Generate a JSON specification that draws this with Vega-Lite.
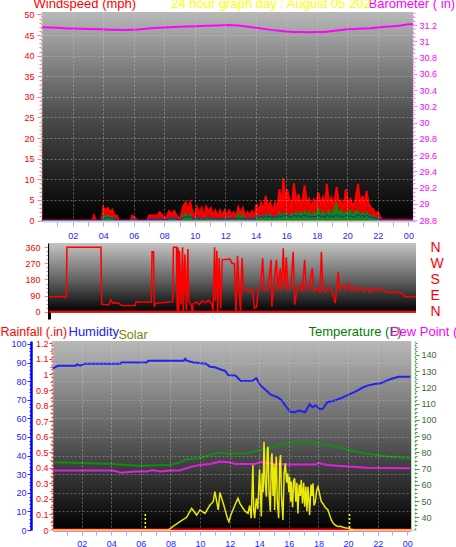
{
"$schema": "https://vega.github.io/schema/vega-lite/v6.json",
"background": "#ffffff",
"autosize": {"type": "pad"},
"padding": {"left": 0, "top": -3, "right": 0, "bottom": 0},
"spacing": 22,
"bounds": "flush",
"config": {
  "view": {"stroke": null},
  "font": "Liberation Sans",
  "axis": {"labelFont": "Liberation Sans", "titleFont": "Liberation Sans", "titleFontWeight": "normal", "labelOverlap": false, "labelFlush": false, "titleFontSize": 13, "labelFontSize": 9, "titleAngle": 0, "titleAlign": "left", "titleBaseline": "alphabetic", "titlePadding": 0}
},
"datasets": {
  "one": [{}],
  "wind": [
    {"h":0,"gust":0,"mean":0,"low":0},{"h":3.3,"gust":0,"mean":0,"low":0},{"h":3.4,"gust":1.2,"mean":0,"low":0.3},{"h":3.5,"gust":0,"mean":0,"low":0},{"h":3.9,"gust":0,"mean":0,"low":0},
    {"h":4.0,"gust":3.2,"mean":1.6,"low":0.8},{"h":4.15,"gust":2.3,"mean":1.0,"low":0.5},{"h":4.3,"gust":3.0,"mean":1.6,"low":0.9},{"h":4.45,"gust":2.0,"mean":0.8,"low":0.4},{"h":4.6,"gust":2.6,"mean":1.2,"low":0.6},{"h":4.75,"gust":1.0,"mean":0.3,"low":0.3},{"h":4.9,"gust":1.2,"mean":0,"low":0.2},{"h":5.0,"gust":0,"mean":0,"low":0},
    {"h":5.8,"gust":0,"mean":0,"low":0},{"h":5.9,"gust":1.2,"mean":0.6,"low":0.5},{"h":6.05,"gust":0.8,"mean":0.2,"low":0.3},{"h":6.2,"gust":0,"mean":0,"low":0},{"h":6.9,"gust":0,"mean":0,"low":0},
    {"h":7.0,"gust":1.2,"mean":0.3,"low":0.3},{"h":7.3,"gust":1.2,"mean":0.2,"low":0.3},{"h":7.5,"gust":1.0,"mean":0.2,"low":0.2},{"h":7.7,"gust":2.0,"mean":0.6,"low":0.4},{"h":7.9,"gust":1.2,"mean":0.2,"low":0.3},{"h":8.1,"gust":0.3,"mean":0,"low":0.1},
    {"h":8.3,"gust":2.3,"mean":0.8,"low":0.5},{"h":8.5,"gust":1.5,"mean":0.4,"low":0.4},{"h":8.65,"gust":2.3,"mean":1.0,"low":0.5},{"h":8.85,"gust":1.0,"mean":0.3,"low":0.3},{"h":9.05,"gust":0.4,"mean":0,"low":0.1},
    {"h":9.25,"gust":3.5,"mean":1.5,"low":0.8},{"h":9.4,"gust":4.4,"mean":2.0,"low":1.0},{"h":9.55,"gust":2.5,"mean":0.8,"low":0.6},{"h":9.7,"gust":4.4,"mean":2.0,"low":1.0},{"h":9.85,"gust":2.0,"mean":0.6,"low":0.5},{"h":10.0,"gust":0.8,"mean":0.2,"low":0.3},
    {"h":10.15,"gust":3.2,"mean":1.2,"low":0.8},{"h":10.3,"gust":1.5,"mean":0.4,"low":0.4},{"h":10.45,"gust":3.0,"mean":1.0,"low":0.7},{"h":10.6,"gust":0.6,"mean":0.1,"low":0.2},{"h":10.75,"gust":3.3,"mean":1.2,"low":0.8},{"h":10.9,"gust":2.0,"mean":0.5,"low":0.5},
    {"h":11.05,"gust":3.0,"mean":1.0,"low":0.7},{"h":11.2,"gust":1.2,"mean":0.3,"low":0.3},{"h":11.35,"gust":2.4,"mean":0.8,"low":0.6},{"h":11.5,"gust":0.8,"mean":0.2,"low":0.3},{"h":11.65,"gust":2.4,"mean":1.0,"low":0.6},{"h":11.8,"gust":1.0,"mean":0.3,"low":0.3},
    {"h":11.95,"gust":2.4,"mean":0.8,"low":0.6},{"h":12.1,"gust":1.0,"mean":0.3,"low":0.3},{"h":12.25,"gust":2.4,"mean":1.2,"low":0.6},{"h":12.4,"gust":1.2,"mean":0.4,"low":0.4},{"h":12.55,"gust":2.0,"mean":0.8,"low":0.5},{"h":12.7,"gust":0.8,"mean":0.3,"low":0.3},
    {"h":12.85,"gust":3.2,"mean":2.4,"low":0.8},{"h":13.0,"gust":1.5,"mean":0.6,"low":0.4},{"h":13.15,"gust":3.0,"mean":2.0,"low":0.7},{"h":13.3,"gust":1.0,"mean":0.3,"low":0.3},{"h":13.45,"gust":2.0,"mean":0.8,"low":0.5},{"h":13.6,"gust":1.2,"mean":0.4,"low":0.4},
    {"h":13.75,"gust":2.2,"mean":1.0,"low":0.6},{"h":13.9,"gust":0.6,"mean":0.1,"low":0.2},{"h":14.05,"gust":4.0,"mean":2.0,"low":1.0},{"h":14.2,"gust":2.0,"mean":0.6,"low":0.6},{"h":14.35,"gust":4.2,"mean":1.6,"low":1.0},{"h":14.5,"gust":2.5,"mean":0.8,"low":0.7},
    {"h":14.65,"gust":6.0,"mean":2.0,"low":1.2},{"h":14.8,"gust":3.0,"mean":1.0,"low":0.8},{"h":14.95,"gust":4.4,"mean":2.0,"low":1.0},{"h":15.1,"gust":2.0,"mean":0.6,"low":0.6},{"h":15.25,"gust":4.2,"mean":1.5,"low":1.0},{"h":15.4,"gust":2.5,"mean":1.0,"low":0.7},
    {"h":15.55,"gust":7.6,"mean":2.4,"low":1.2},{"h":15.7,"gust":3.0,"mean":1.2,"low":0.8},{"h":15.8,"gust":10.3,"mean":2.0,"low":1.4},{"h":15.95,"gust":4.0,"mean":1.5,"low":1.0},{"h":16.05,"gust":7.6,"mean":2.0,"low":1.2},{"h":16.2,"gust":5.2,"mean":1.2,"low":1.0},
    {"h":16.35,"gust":3.0,"mean":2.0,"low":0.8},{"h":16.5,"gust":9.0,"mean":1.5,"low":1.3},{"h":16.65,"gust":4.0,"mean":2.4,"low":1.0},{"h":16.8,"gust":6.4,"mean":1.5,"low":1.2},{"h":16.95,"gust":3.5,"mean":2.4,"low":0.9},{"h":17.1,"gust":6.0,"mean":1.5,"low":1.2},
    {"h":17.2,"gust":8.5,"mean":2.8,"low":1.3},{"h":17.35,"gust":4.0,"mean":1.5,"low":1.0},{"h":17.5,"gust":5.2,"mean":2.8,"low":1.1},{"h":17.65,"gust":3.0,"mean":1.2,"low":0.8},{"h":17.8,"gust":5.0,"mean":2.4,"low":1.0},{"h":17.95,"gust":3.5,"mean":1.5,"low":0.9},
    {"h":18.1,"gust":6.8,"mean":3.6,"low":1.3},{"h":18.25,"gust":4.0,"mean":1.5,"low":1.0},{"h":18.4,"gust":5.6,"mean":2.8,"low":1.1},{"h":18.55,"gust":3.0,"mean":1.2,"low":0.8},{"h":18.65,"gust":8.9,"mean":2.0,"low":1.4},{"h":18.8,"gust":4.0,"mean":2.8,"low":1.0},
    {"h":18.95,"gust":5.5,"mean":1.6,"low":1.1},{"h":19.1,"gust":3.5,"mean":2.8,"low":0.9},{"h":19.3,"gust":8.1,"mean":4.8,"low":1.4},{"h":19.45,"gust":4.0,"mean":2.0,"low":1.0},{"h":19.6,"gust":4.8,"mean":3.0,"low":1.1},{"h":19.75,"gust":3.0,"mean":1.5,"low":0.8},
    {"h":19.9,"gust":7.6,"mean":2.5,"low":1.3},{"h":20.05,"gust":4.0,"mean":2.0,"low":1.0},{"h":20.2,"gust":5.2,"mean":2.8,"low":1.1},{"h":20.35,"gust":3.5,"mean":1.5,"low":0.9},{"h":20.5,"gust":4.5,"mean":2.4,"low":1.0},{"h":20.7,"gust":8.9,"mean":2.4,"low":1.4},
    {"h":20.85,"gust":4.0,"mean":1.5,"low":1.0},{"h":21.0,"gust":6.0,"mean":2.4,"low":1.2},{"h":21.15,"gust":3.5,"mean":1.2,"low":0.9},{"h":21.25,"gust":7.2,"mean":2.4,"low":1.3},{"h":21.4,"gust":4.0,"mean":1.6,"low":1.0},{"h":21.55,"gust":3.0,"mean":1.0,"low":0.8},
    {"h":21.7,"gust":2.8,"mean":1.6,"low":0.7},{"h":21.85,"gust":1.5,"mean":0.6,"low":0.5},{"h":22.0,"gust":2.0,"mean":1.0,"low":0.6},{"h":22.15,"gust":0.8,"mean":0.3,"low":0.3},{"h":22.3,"gust":0.2,"mean":0,"low":0.1},{"h":24.3,"gust":0.2,"mean":0,"low":0.1}
  ],
  "baro": [
    {"h":0,"baro":31.172},{"h":0.5,"baro":31.17},{"h":1,"baro":31.165},{"h":1.5,"baro":31.16},{"h":2,"baro":31.158},{"h":3,"baro":31.152},{"h":3.8,"baro":31.147},{"h":4.5,"baro":31.142},{"h":5.5,"baro":31.138},{"h":6.3,"baro":31.145},{"h":7.1,"baro":31.16},{"h":8,"baro":31.17},{"h":9,"baro":31.18},{"h":10,"baro":31.185},{"h":10.8,"baro":31.19},{"h":11.5,"baro":31.195},{"h":12.2,"baro":31.2},{"h":13,"baro":31.19},{"h":14,"baro":31.167},{"h":15,"baro":31.14},{"h":15.5,"baro":31.13},{"h":16,"baro":31.12},{"h":16.5,"baro":31.115},{"h":17,"baro":31.113},{"h":17.5,"baro":31.112},{"h":18,"baro":31.113},{"h":18.5,"baro":31.115},{"h":19,"baro":31.125},{"h":19.5,"baro":31.135},{"h":20,"baro":31.147},{"h":20.5,"baro":31.152},{"h":21,"baro":31.157},{"h":21.5,"baro":31.16},{"h":22,"baro":31.17},{"h":22.5,"baro":31.178},{"h":23,"baro":31.185},{"h":23.5,"baro":31.195},{"h":24,"baro":31.21},{"h":24.3,"baro":31.21}
  ],
  "dir": [
    {"h":0.45,"dir":84},{"h":1.0,"dir":84},{"h":1.3,"dir":85},{"h":1.58,"dir":80},{"h":1.62,"dir":360},{"h":3.85,"dir":360},{"h":3.9,"dir":43},{"h":4.1,"dir":40},{"h":4.35,"dir":38},{"h":4.5,"dir":67},{"h":4.62,"dir":48},{"h":4.8,"dir":50},{"h":5.0,"dir":48},{"h":5.2,"dir":35},{"h":6.1,"dir":35},{"h":6.15,"dir":54},{"h":7.15,"dir":54},{"h":7.2,"dir":335},{"h":7.3,"dir":335},{"h":7.35,"dir":28},{"h":7.45,"dir":48},{"h":8.0,"dir":52},{"h":8.55,"dir":56},{"h":8.6,"dir":360},{"h":8.8,"dir":360},{"h":8.85,"dir":10},{"h":8.9,"dir":360},{"h":8.95,"dir":0},{"h":9.0,"dir":340},{"h":9.1,"dir":40},{"h":9.2,"dir":360},{"h":9.25,"dir":0},{"h":9.35,"dir":320},{"h":9.45,"dir":10},{"h":9.55,"dir":350},{"h":9.6,"dir":60},{"h":9.75,"dir":40},{"h":9.85,"dir":0},{"h":9.9,"dir":45},{"h":10.1,"dir":55},{"h":10.3,"dir":40},{"h":10.5,"dir":62},{"h":10.7,"dir":50},{"h":10.9,"dir":65},{"h":11.1,"dir":45},{"h":11.2,"dir":10},{"h":11.3,"dir":360},{"h":11.35,"dir":60},{"h":11.45,"dir":340},{"h":11.5,"dir":0},{"h":11.6,"dir":300},{"h":11.7,"dir":20},{"h":11.8,"dir":290},{"h":12.0,"dir":292},{"h":12.3,"dir":294},{"h":12.45,"dir":270},{"h":12.6,"dir":270},{"h":12.7,"dir":0},{"h":12.8,"dir":313},{"h":12.9,"dir":120},{"h":13.0,"dir":5},{"h":13.1,"dir":300},{"h":13.2,"dir":120},{"h":13.4,"dir":130},{"h":13.6,"dir":110},{"h":13.8,"dir":125},{"h":13.9,"dir":21},{"h":14.05,"dir":25},{"h":14.15,"dir":120},{"h":14.3,"dir":130},{"h":14.45,"dir":299},{"h":14.55,"dir":115},{"h":14.8,"dir":130},{"h":15.0,"dir":290},{"h":15.05,"dir":28},{"h":15.15,"dir":120},{"h":15.35,"dir":290},{"h":15.45,"dir":115},{"h":15.6,"dir":242},{"h":15.7,"dir":120},{"h":15.8,"dir":354},{"h":15.9,"dir":130},{"h":16.0,"dir":304},{"h":16.1,"dir":120},{"h":16.3,"dir":140},{"h":16.45,"dir":335},{"h":16.55,"dir":39},{"h":16.7,"dir":125},{"h":16.9,"dir":150},{"h":17.05,"dir":110},{"h":17.2,"dir":290},{"h":17.3,"dir":120},{"h":17.5,"dir":135},{"h":17.7,"dir":242},{"h":17.8,"dir":115},{"h":18.0,"dir":130},{"h":18.2,"dir":110},{"h":18.3,"dir":335},{"h":18.4,"dir":120},{"h":18.6,"dir":110},{"h":18.8,"dir":140},{"h":19.0,"dir":120},{"h":19.2,"dir":48},{"h":19.3,"dir":130},{"h":19.4,"dir":224},{"h":19.5,"dir":125},{"h":19.7,"dir":150},{"h":19.9,"dir":120},{"h":20.1,"dir":160},{"h":20.3,"dir":115},{"h":20.5,"dir":140},{"h":20.7,"dir":120},{"h":20.9,"dir":135},{"h":21.1,"dir":115},{"h":21.3,"dir":130},{"h":21.5,"dir":110},{"h":21.7,"dir":135},{"h":21.9,"dir":120},{"h":22.1,"dir":131},{"h":22.4,"dir":115},{"h":22.7,"dir":110},{"h":23.0,"dir":105},{"h":23.3,"dir":112},{"h":23.6,"dir":100},{"h":23.8,"dir":84},{"h":24.5,"dir":84}
  ],
  "hum": [
    {"h":0.06,"hum":86.9},{"h":0.4,"hum":88.3},{"h":1.6,"hum":88.3},{"h":1.68,"hum":89.1},{"h":1.9,"hum":88.3},{"h":2.2,"hum":89.4},{"h":4.6,"hum":89.4},{"h":4.7,"hum":90.1},{"h":6.4,"hum":90.1},{"h":6.5,"hum":91.0},{"h":8.9,"hum":91.0},{"h":9.0,"hum":92.0},{"h":9.1,"hum":91.0},{"h":9.55,"hum":90.0},{"h":10.4,"hum":89.4},{"h":10.67,"hum":87.8},{"h":11.0,"hum":87.5},{"h":11.35,"hum":86.4},{"h":11.7,"hum":85.5},{"h":11.9,"hum":83.3},{"h":12.4,"hum":83.0},{"h":12.75,"hum":80.1},{"h":13.5,"hum":80.1},{"h":13.8,"hum":81.6},{"h":14.1,"hum":77.6},{"h":14.4,"hum":75.5},{"h":14.8,"hum":72.6},{"h":15.2,"hum":71.5},{"h":15.5,"hum":69.9},{"h":15.8,"hum":66.5},{"h":16.1,"hum":63.6},{"h":16.4,"hum":63.3},{"h":16.7,"hum":64.2},{"h":17.1,"hum":63.3},{"h":17.4,"hum":67.6},{"h":17.6,"hum":66.0},{"h":17.8,"hum":67.0},{"h":18.1,"hum":64.9},{"h":18.3,"hum":65.2},{"h":18.6,"hum":68.7},{"h":19.1,"hum":69.6},{"h":19.5,"hum":70.8},{"h":20.0,"hum":72.6},{"h":20.5,"hum":74.4},{"h":21.0,"hum":76.6},{"h":21.3,"hum":77.6},{"h":21.8,"hum":78.5},{"h":22.2,"hum":78.9},{"h":22.9,"hum":81.2},{"h":23.4,"hum":82.4},{"h":24.2,"hum":82.4}
  ],
  "temp": [
    {"h":0.06,"temp":74.0},{"h":2.0,"temp":73.5},{"h":4.1,"temp":72.8},{"h":5.9,"temp":71.7},{"h":7.97,"temp":72.3},{"h":8.6,"temp":73.7},{"h":9.1,"temp":75.8},{"h":10.0,"temp":76.5},{"h":10.67,"temp":78.5},{"h":11.35,"temp":79.9},{"h":11.9,"temp":79.1},{"h":13.2,"temp":79.5},{"h":14.1,"temp":81.6},{"h":15.1,"temp":83.6},{"h":16.1,"temp":86.1},{"h":17.0,"temp":86.0},{"h":17.8,"temp":85.7},{"h":18.6,"temp":84.7},{"h":20.0,"temp":81.6},{"h":21.3,"temp":79.1},{"h":22.7,"temp":77.4},{"h":24.2,"temp":76.2}
  ],
  "dew": [
    {"h":0.06,"dew":68.8},{"h":4.1,"dew":68.8},{"h":4.7,"dew":67.4},{"h":5.5,"dew":68.2},{"h":6.4,"dew":68.2},{"h":6.8,"dew":69.2},{"h":7.3,"dew":68.2},{"h":8.0,"dew":68.8},{"h":8.6,"dew":68.8},{"h":9.3,"dew":70.9},{"h":10.0,"dew":72.3},{"h":10.7,"dew":72.9},{"h":11.35,"dew":74.4},{"h":11.9,"dew":74.0},{"h":12.4,"dew":72.9},{"h":13.7,"dew":72.9},{"h":14.1,"dew":74.0},{"h":15.1,"dew":72.9},{"h":16.0,"dew":72.5},{"h":17.8,"dew":72.5},{"h":18.0,"dew":73.5},{"h":18.6,"dew":72.3},{"h":20.0,"dew":71.3},{"h":21.3,"dew":70.5},{"h":24.2,"dew":70.2}
  ],
  "rain": [{"h":0.06,"rain":0},{"h":24.25,"rain":0}],
  "sun": [{"h":6.3,"top":85},{"h":20.1,"top":85}],
  "solar": [
    {"h":0.06,"solar":0},{"h":7.85,"solar":0},{"h":8.2,"solar":20},{"h":8.64,"solar":44},{"h":9.09,"solar":67},{"h":9.43,"solar":115},{"h":9.77,"solar":79},{"h":9.99,"solar":106},{"h":10.33,"solar":88},{"h":10.67,"solar":132},{"h":10.89,"solar":150},{"h":11.0,"solar":203},{"h":11.23,"solar":106},{"h":11.34,"solar":198},{"h":11.6,"solar":132},{"h":11.85,"solar":62},{"h":11.95,"solar":44},{"h":12.08,"solar":80},{"h":12.22,"solar":106},{"h":12.4,"solar":140},{"h":12.56,"solar":168},{"h":12.7,"solar":140},{"h":12.9,"solar":115},{"h":13.05,"solar":100},{"h":13.24,"solar":88},{"h":13.35,"solar":130},{"h":13.46,"solar":62},
    {"h":13.57,"solar":344},{"h":13.63,"solar":100},{"h":13.69,"solar":62},{"h":13.8,"solar":168},{"h":13.9,"solar":110},{"h":14.02,"solar":321},{"h":14.1,"solar":150},{"h":14.14,"solar":71},{"h":14.2,"solar":300},{"h":14.26,"solar":200},{"h":14.32,"solar":467},{"h":14.4,"solar":250},{"h":14.48,"solar":176},{"h":14.54,"solar":420},{"h":14.59,"solar":441},{"h":14.66,"solar":200},{"h":14.75,"solar":97},{"h":14.82,"solar":380},{"h":14.86,"solar":406},{"h":14.93,"solar":180},{"h":15.0,"solar":350},{"h":15.04,"solar":106},{"h":15.1,"solar":300},{"h":15.15,"solar":388},{"h":15.22,"solar":150},{"h":15.31,"solar":62},{"h":15.38,"solar":350},{"h":15.44,"solar":397},{"h":15.5,"solar":180},{"h":15.6,"solar":53},{"h":15.68,"solar":300},{"h":15.76,"solar":353},{"h":15.85,"solar":250},{"h":15.92,"solar":300},{"h":16.0,"solar":200},{"h":16.05,"solar":282},{"h":16.12,"solar":150},{"h":16.16,"solar":256},{"h":16.25,"solar":120},{"h":16.32,"solar":260},{"h":16.39,"solar":273},{"h":16.47,"solar":150},{"h":16.54,"solar":250},{"h":16.61,"solar":88},{"h":16.7,"solar":240},{"h":16.77,"solar":180},{"h":16.84,"solar":265},{"h":16.92,"solar":140},{"h":17.0,"solar":250},{"h":17.07,"solar":123},{"h":17.15,"solar":230},{"h":17.22,"solar":100},{"h":17.29,"solar":229},{"h":17.35,"solar":160},{"h":17.4,"solar":79},{"h":17.5,"solar":240},{"h":17.57,"solar":180},{"h":17.63,"solar":247},{"h":17.7,"solar":130},{"h":17.79,"solar":150},{"h":17.88,"solar":210},{"h":17.97,"solar":229},{"h":18.08,"solar":190},{"h":18.19,"solar":150},{"h":18.3,"solar":140},{"h":18.45,"solar":120},{"h":18.64,"solar":106},{"h":18.75,"solar":80},{"h":18.87,"solar":53},{"h":19.0,"solar":35},{"h":19.15,"solar":25},{"h":19.32,"solar":18},{"h":19.5,"solar":20},{"h":19.66,"solar":14},{"h":19.8,"solar":12},{"h":19.99,"solar":10},{"h":20.2,"solar":4},{"h":20.44,"solar":0},{"h":24.25,"solar":0}
  ]
},
"vconcat": [
  {
    "width": 374, "height": 209,
    "resolve": {"scale": {"x": "independent", "y": "independent"}},
    "layer": [
      {"data": {"name": "one"},
       "mark": {"type": "rect", "color": {"gradient": "linear", "x1": 0, "y1": 0, "x2": 0, "y2": 1, "stops": [{"offset": 0, "color": "#b8b8b8"}, {"offset": 0.5, "color": "#4c4c4c"}, {"offset": 1, "color": "#000000"}]}},
       "encoding": {
         "x": {"datum": 0, "type": "quantitative", "scale": {"domain": [-0.013, 24.5], "nice": false, "zero": false}, "axis": null},
         "x2": {"datum": 24.3},
         "y": {"datum": -0.12, "type": "quantitative", "scale": {"domain": [-0.12, 50.6], "nice": false, "zero": false}, "axis": null},
         "y2": {"datum": 50.6}}},
      {"data": {"name": "wind"},
       "mark": {"type": "area", "color": "#ff0000", "opacity": 0.92, "line": {"color": "#ff0000", "strokeWidth": 2}},
       "encoding": {
         "x": {"field": "h", "type": "quantitative", "scale": {"domain": [-0.013, 24.5], "nice": false, "zero": false},
           "axis": {"values": [1,2,3,4,5,6,7,8,9,10,11,12,13,14,15,16,17,18,19,20,21,22,23,24],
             "labelExpr": "datum.value % 2 == 0 ? (datum.value == 24 ? '00' : (datum.value < 10 ? '0' + datum.value : '' + datum.value)) : ''",
             "labelOverlap": false, "zindex": 1,
             "labelColor": "#2424ff", "labelPadding": 5, "tickColor": "#a8a8ff", "tickSize": 5,
             "domainColor": "#cfcfcf", "domainWidth": 2,
             "grid": true, "gridColor": "#d8d8d8", "gridDash": [2, 2],
             "gridOpacity": {"condition": {"test": "datum.value % 2 == 0 && datum.value < 24", "value": 0.4}, "value": 0},
             "title": "24 hour graph day : August 05 202", "titleColor": "#ffff00", "titleX": 128.7, "titleY": -213.5}},
         "y": {"field": "gust", "type": "quantitative", "scale": {"domain": [-0.12, 50.6], "nice": false, "zero": false},
           "axis": {"orient": "left", "offset": 1,
             "values": [0,1,2,3,4,5,6,7,8,9,10,11,12,13,14,15,16,17,18,19,20,21,22,23,24,25,26,27,28,29,30,31,32,33,34,35,36,37,38,39,40,41,42,43,44,45,46,47,48,49,50],
             "labelExpr": "datum.value % 5 == 0 ? datum.label : ''",
             "labelOverlap": false, "zindex": 1,
             "labelColor": "#ff0000", "labelPadding": 3, "tickColor": "#ff8080",
             "tickSize": {"condition": {"test": "datum.value % 5 == 0", "value": 4}, "value": 2},
             "domainColor": "#ff9090", "domainDash": [2, 2],
             "grid": true, "gridColor": "#d8d8d8", "gridDash": [2, 2],
             "gridOpacity": {"condition": {"test": "datum.value % 5 == 0 && datum.value > 0 && datum.value < 50", "value": 0.4}, "value": 0},
             "title": "Windspeed (mph)", "titleColor": "#ff0000", "titleX": -8, "titleY": -4.5}}}},
      {"data": {"name": "wind"},
       "mark": {"type": "area", "color": "#0c8a0c"},
       "encoding": {
         "x": {"field": "h", "type": "quantitative", "scale": {"domain": [-0.013, 24.5], "nice": false, "zero": false}, "axis": null},
         "y": {"field": "mean", "type": "quantitative", "scale": {"domain": [-0.12, 50.6], "nice": false, "zero": false}, "axis": null}}},
      {"data": {"name": "wind"},
       "mark": {"type": "line", "color": "#1414ff", "strokeWidth": 1},
       "encoding": {
         "x": {"field": "h", "type": "quantitative", "scale": {"domain": [-0.013, 24.5], "nice": false, "zero": false}, "axis": null},
         "y": {"field": "low", "type": "quantitative", "scale": {"domain": [-0.12, 50.6], "nice": false, "zero": false}, "axis": null}}},
      {"data": {"name": "baro"},
       "mark": {"type": "line", "color": "#ff00ff", "strokeWidth": 2},
       "encoding": {
         "x": {"field": "h", "type": "quantitative", "scale": {"domain": [-0.013, 24.5], "nice": false, "zero": false}, "axis": null},
         "y": {"field": "baro", "type": "quantitative", "scale": {"domain": [28.788, 31.36], "nice": false, "zero": false},
           "axis": {"orient": "right", "offset": -3,
             "values": [28.8,28.85,28.9,28.95,29,29.05,29.1,29.15,29.2,29.25,29.3,29.35,29.4,29.45,29.5,29.55,29.6,29.65,29.7,29.75,29.8,29.85,29.9,29.95,30,30.05,30.1,30.15,30.2,30.25,30.3,30.35,30.4,30.45,30.5,30.55,30.6,30.65,30.7,30.75,30.8,30.85,30.9,30.95,31,31.05,31.1,31.15,31.2,31.25,31.3,31.35],
             "labelExpr": "abs(datum.value*5 - round(datum.value*5)) < 0.001 ? format(datum.value, '~g') : ''",
             "labelOverlap": false,
             "labelColor": "#ff00ff", "labelPadding": 2, "tickColor": "#ff80ff",
             "tickSize": {"condition": {"test": "abs(datum.value*5 - round(datum.value*5)) < 0.001", "value": 4}, "value": 2},
             "domainColor": "#ff80ff", "domainDash": [2, 2], "grid": false,
             "title": "Barometer ( in)", "titleColor": "#ff00ff", "titleX": -45, "titleY": -4.5}}}}
    ]
  },
  {
    "width": 374, "height": 76,
    "resolve": {"scale": {"x": "independent", "y": "independent"}},
    "layer": [
      {"data": {"name": "one"},
       "mark": {"type": "rect", "color": {"gradient": "linear", "x1": 0, "y1": 0, "x2": 0, "y2": 1, "stops": [{"offset": 0, "color": "#c4c4c4"}, {"offset": 0.5, "color": "#686868"}, {"offset": 1, "color": "#000000"}]}},
       "encoding": {
         "x": {"datum": 0.45, "type": "quantitative", "scale": {"domain": [-0.013, 24.5], "nice": false, "zero": false}, "axis": null},
         "x2": {"datum": 24.5},
         "y": {"datum": -4, "type": "quantitative", "scale": {"domain": [-40.8, 384], "nice": false, "zero": false}, "axis": null},
         "y2": {"datum": 384}}},
      {"data": {"name": "one"},
       "mark": {"type": "rule", "color": "#ff0000", "strokeWidth": 2},
       "encoding": {
         "x": {"datum": 0.45, "type": "quantitative", "scale": {"domain": [-0.013, 24.5], "nice": false, "zero": false}, "axis": null},
         "x2": {"datum": 24.5},
         "y": {"datum": 0, "type": "quantitative", "scale": {"domain": [-40.8, 384], "nice": false, "zero": false},
           "axis": {"orient": "right", "values": [0, 90, 180, 270, 360],
             "labelExpr": "datum.value == 270 ? 'W' : (datum.value == 180 ? 'S' : (datum.value == 90 ? 'E' : 'N'))",
             "labelOverlap": false,
             "labelColor": "#ff0000", "labelFontSize": 14, "labelPadding": 14, "ticks": false, "domain": false, "grid": false, "title": null}}}},
      {"data": {"name": "dir"},
       "mark": {"type": "line", "color": "#ff0000", "strokeWidth": 1.5},
       "encoding": {
         "x": {"field": "h", "type": "quantitative", "scale": {"domain": [-0.013, 24.5], "nice": false, "zero": false}, "axis": null},
         "y": {"field": "dir", "type": "quantitative", "scale": {"domain": [-40.8, 384], "nice": false, "zero": false},
           "axis": {"orient": "left", "offset": -7,
             "values": [0,22.5,45,67.5,90,112.5,135,157.5,180,202.5,225,247.5,270,292.5,315,337.5,360],
             "labelExpr": "datum.value % 90 == 0 ? datum.label : ''",
             "labelOverlap": false,
             "labelColor": "#ff0000", "labelPadding": 4, "tickColor": "#ff8080",
             "tickSize": {"condition": {"test": "datum.value % 90 == 0", "value": 5}, "value": 3},
             "domainColor": "#000000", "domainWidth": 3, "grid": false, "title": null}}}}
    ]
  },
  {
    "width": 374, "height": 189,
    "resolve": {"scale": {"x": "independent", "y": "independent"}},
    "layer": [
      {"data": {"name": "one"},
       "mark": {"type": "rect", "color": {"gradient": "linear", "x1": 0, "y1": 0, "x2": 0, "y2": 1, "stops": [{"offset": 0, "color": "#b8b8b8"}, {"offset": 0.4, "color": "#707070"}, {"offset": 1, "color": "#000000"}]}},
       "encoding": {
         "x": {"datum": 0.08, "type": "quantitative", "scale": {"domain": [-0.68, 24.59], "nice": false, "zero": false}, "axis": null},
         "x2": {"datum": 24.27},
         "y": {"datum": 0, "type": "quantitative", "scale": {"domain": [0, 101.6], "nice": false, "zero": false}, "axis": null},
         "y2": {"datum": 101.6}}},
      {"data": {"name": "hum"},
       "mark": {"type": "line", "color": "#2222ee", "strokeWidth": 2},
       "encoding": {
         "x": {"field": "h", "type": "quantitative", "scale": {"domain": [-0.68, 24.59], "nice": false, "zero": false},
           "axis": {"values": [1,2,3,4,5,6,7,8,9,10,11,12,13,14,15,16,17,18,19,20,21,22,23,24],
             "labelExpr": "datum.value % 2 == 0 ? (datum.value == 24 ? '00' : (datum.value < 10 ? '0' + datum.value : '' + datum.value)) : ''",
             "labelOverlap": false, "zindex": 1,
             "labelColor": "#2424ff", "labelPadding": 4, "tickColor": "#a8a8ff", "tickSize": 5,
             "domainColor": "#cfcfcf", "domainWidth": 1,
             "grid": true, "gridColor": "#d8d8d8", "gridDash": [2, 2],
             "gridOpacity": {"condition": {"test": "datum.value % 2 == 0 && datum.value < 24", "value": 0.4}, "value": 0},
             "title": null}},
         "y": {"field": "hum", "type": "quantitative", "scale": {"domain": [0, 101.6], "nice": false, "zero": false},
           "axis": {"orient": "left", "offset": 11,
             "values": [0,2,4,6,8,10,12,14,16,18,20,22,24,26,28,30,32,34,36,38,40,42,44,46,48,50,52,54,56,58,60,62,64,66,68,70,72,74,76,78,80,82,84,86,88,90,92,94,96,98,100],
             "labelExpr": "datum.value % 10 == 0 ? datum.label : ''",
             "labelOverlap": false, "zindex": 1,
             "labelColor": "#2828ff", "labelPadding": 1, "tickColor": "#2828ff",
             "tickSize": {"condition": {"test": "datum.value % 10 == 0", "value": 4}, "value": 2},
             "domainColor": "#0000ff", "domainWidth": 2.5,
             "grid": true, "gridColor": "#d8d8d8", "gridDash": [2, 2],
             "gridOpacity": {"condition": {"test": "datum.value % 10 == 0 && datum.value > 0 && datum.value < 100", "value": 0.35}, "value": 0},
             "title": "Humidity", "titleColor": "#2020ff", "titleX": 37, "titleY": -6}}}},
      {"data": {"name": "temp"},
       "mark": {"type": "line", "color": "#148c14", "strokeWidth": 2},
       "encoding": {
         "x": {"field": "h", "type": "quantitative", "scale": {"domain": [-0.68, 24.59], "nice": false, "zero": false}, "axis": null},
         "y": {"field": "temp", "type": "quantitative", "scale": {"domain": [32.2, 148.6], "nice": false, "zero": false},
           "axis": {"orient": "right", "offset": -1,
             "values": [35,37.5,40,42.5,45,47.5,50,52.5,55,57.5,60,62.5,65,67.5,70,72.5,75,77.5,80,82.5,85,87.5,90,92.5,95,97.5,100,102.5,105,107.5,110,112.5,115,117.5,120,122.5,125,127.5,130,132.5,135,137.5,140,142.5,145,147.5],
             "labelExpr": "datum.value % 10 == 0 ? datum.label : ''",
             "labelOverlap": false,
             "labelColor": "#3a6a3a", "labelPadding": 2, "tickColor": "#40a040",
             "tickSize": {"condition": {"test": "datum.value % 10 == 0", "value": 4}, "value": 2},
             "domainColor": "#40a040", "domainDash": [2, 2], "domainWidth": 1.5, "grid": false,
             "title": "Temperature (F)", "titleColor": "#008000", "titleX": -107, "titleY": -6}}}},
      {"data": {"name": "dew"},
       "mark": {"type": "line", "color": "#e020e0", "strokeWidth": 2},
       "encoding": {
         "x": {"field": "h", "type": "quantitative", "scale": {"domain": [-0.68, 24.59], "nice": false, "zero": false}, "axis": null},
         "y": {"field": "dew", "type": "quantitative", "scale": {"domain": [32.2, 148.6], "nice": false, "zero": false},
           "axis": {"orient": "right", "offset": -1, "labels": false, "ticks": false, "domain": false, "grid": false,
             "title": "Dew Point (F)", "titleColor": "#ff00ff", "titleX": -25.3, "titleY": -6}}}},
      {"data": {"name": "rain"},
       "mark": {"type": "line", "color": "#ff0000", "strokeWidth": 3},
       "encoding": {
         "x": {"field": "h", "type": "quantitative", "scale": {"domain": [-0.68, 24.59], "nice": false, "zero": false}, "axis": null},
         "y": {"field": "rain", "type": "quantitative", "scale": {"domain": [0, 1.215], "nice": false, "zero": false},
           "axis": {"orient": "left", "offset": -10,
             "values": [0,0.05,0.1,0.15,0.2,0.25,0.3,0.35,0.4,0.45,0.5,0.55,0.6,0.65,0.7,0.75,0.8,0.85,0.9,0.95,1,1.05,1.1,1.15,1.2],
             "labelExpr": "abs(datum.value*10 - round(datum.value*10)) < 0.001 ? format(datum.value, '~g') : ''",
             "labelOverlap": false,
             "labelColor": "#ff0000", "labelPadding": 1, "tickColor": "#ff3030",
             "tickSize": {"condition": {"test": "abs(datum.value*10 - round(datum.value*10)) < 0.001", "value": 3}, "value": 2},
             "domainColor": "#ff4040", "domainDash": [2, 2], "domainWidth": 2, "grid": false,
             "title": "Rainfall (.in)", "titleColor": "#ff0000", "titleFontSize": 12.5, "titleX": -52, "titleY": -6}}}},
      {"data": {"name": "solar"},
       "mark": {"type": "line", "color": "#ffff00", "strokeWidth": 1.5, "opacity": 0.9},
       "encoding": {
         "x": {"field": "h", "type": "quantitative", "scale": {"domain": [-0.68, 24.59], "nice": false, "zero": false}, "axis": null},
         "y": {"field": "solar", "type": "quantitative", "scale": {"domain": [0, 1000], "nice": false, "zero": false},
           "axis": {"orient": "left", "offset": 0, "labels": false, "ticks": false, "domain": false, "grid": false,
             "title": "Solar", "titleColor": "#808000", "titleFontSize": 12.5, "titleX": 76, "titleY": -3}}}},
      {"data": {"name": "sun"},
       "mark": {"type": "rule", "color": "#ffff00", "strokeWidth": 1.5, "strokeDash": [2, 2]},
       "encoding": {
         "x": {"field": "h", "type": "quantitative", "scale": {"domain": [-0.68, 24.59], "nice": false, "zero": false}, "axis": null},
         "y": {"field": "top", "type": "quantitative", "scale": {"domain": [0, 1000], "nice": false, "zero": false}, "axis": null},
         "y2": {"datum": 0}}}
    ]
  }
]
}
